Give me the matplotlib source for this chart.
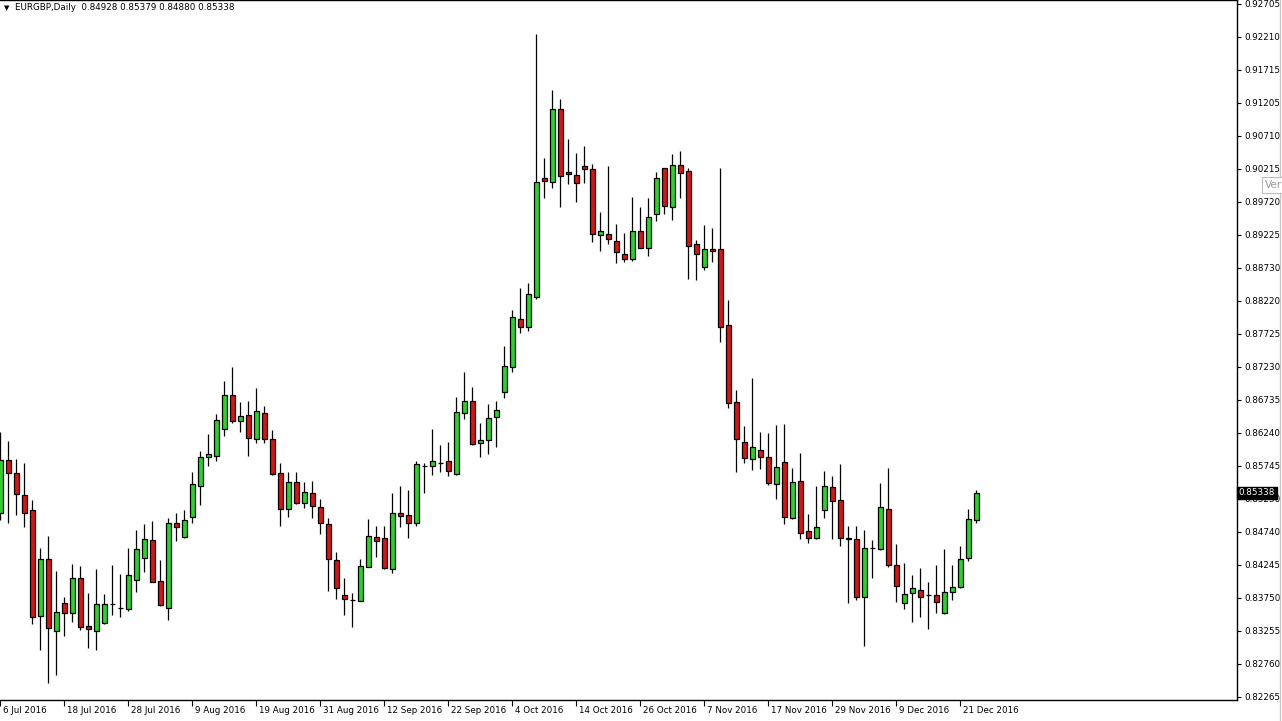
import numpy as np
import pandas as pd
import matplotlib
matplotlib.use('Agg')
import matplotlib.pyplot as plt
from matplotlib.lines import Line2D

# EURGBP daily bars, 6 Jul 2016 - 23 Dec 2016
dates = pd.bdate_range('2016-07-06', '2016-12-23')

opens = [0.85032, 0.85835, 0.85644, 0.85308, 0.85082, 0.83489, 0.84339, 0.83264, 0.83681, 0.83535,
         0.84053, 0.83334, 0.83264, 0.83384, 0.83666, 0.83601, 0.83590, 0.84023, 0.84354, 0.84625,
         0.84008, 0.83610, 0.84881, 0.84680, 0.84981, 0.85448, 0.85876, 0.85900, 0.86298, 0.86814,
         0.86427, 0.86513, 0.86147, 0.86539, 0.86147, 0.85635, 0.85092, 0.85499, 0.85192, 0.85333,
         0.85123, 0.84871, 0.84329, 0.83801, 0.83726, 0.83715, 0.84228, 0.84671, 0.84656, 0.84193,
         0.85032, 0.85007, 0.84881, 0.85745, 0.85745, 0.85785, 0.85820, 0.85624, 0.86539, 0.86724,
         0.86087, 0.86136, 0.86487, 0.86860, 0.87236, 0.87959, 0.87839, 0.88295, 0.90079, 0.90019,
         0.91118, 0.90169, 0.90124, 0.90264, 0.90215, 0.89225, 0.89235, 0.89134, 0.88934, 0.88859,
         0.89285, 0.89033, 0.89537, 0.90230, 0.89651, 0.90279, 0.90189, 0.89085, 0.88747, 0.89009,
         0.89009, 0.87869, 0.86704, 0.86102, 0.85846, 0.85986, 0.85876, 0.85478, 0.85800, 0.84966,
         0.85514, 0.84761, 0.84665, 0.85082, 0.85424, 0.85233, 0.84656, 0.84645, 0.83776, 0.84505,
         0.84490, 0.85097, 0.84253, 0.83685, 0.83827, 0.83877, 0.83801, 0.83801, 0.83535, 0.83851,
         0.83926, 0.84363, 0.84928]

highs = [0.86261, 0.86126, 0.85846, 0.85794, 0.85233, 0.84505, 0.84690, 0.84163, 0.83776, 0.84268,
         0.84238, 0.83827, 0.84193, 0.83816, 0.84253, 0.84118, 0.84514, 0.84781, 0.84871, 0.84921,
         0.84329, 0.84957, 0.85032, 0.85082, 0.85650, 0.85971, 0.86227, 0.86528, 0.87025, 0.87241,
         0.86713, 0.86724, 0.86915, 0.86649, 0.86287, 0.85785, 0.85650, 0.85650, 0.85499, 0.85519,
         0.85243, 0.84957, 0.84445, 0.84053, 0.83827, 0.84344, 0.84946, 0.84845, 0.84845, 0.85342,
         0.85443, 0.85383, 0.85820, 0.85794, 0.86302, 0.86061, 0.86111, 0.86789, 0.87156, 0.86930,
         0.86388, 0.86679, 0.86724, 0.87553, 0.88095, 0.88426, 0.88502, 0.92253, 0.90389, 0.91409,
         0.91269, 0.90671, 0.90456, 0.90566, 0.90290, 0.89567, 0.90264, 0.89390, 0.89250, 0.89802,
         0.89642, 0.89778, 0.90169, 0.90240, 0.90445, 0.90490, 0.90230, 0.89149, 0.89375, 0.89326,
         0.90239, 0.88246, 0.86890, 0.86347, 0.87075, 0.86257, 0.86242, 0.86362, 0.86377, 0.85710,
         0.85936, 0.85017, 0.85443, 0.85669, 0.85594, 0.85775, 0.84841, 0.84841, 0.84781, 0.84630,
         0.85493, 0.85710, 0.84570, 0.84279, 0.84103, 0.84204, 0.83993, 0.84253, 0.84494, 0.84253,
         0.84540, 0.85097, 0.85379]

lows = [0.84931, 0.84891, 0.85007, 0.84830, 0.83360, 0.82973, 0.82471, 0.82596, 0.83184, 0.83399,
        0.83274, 0.83007, 0.82973, 0.83364, 0.83500, 0.83474, 0.83560, 0.83851, 0.84152, 0.83997,
        0.83640, 0.83425, 0.84619, 0.84660, 0.84891, 0.85157, 0.85745, 0.85825, 0.86197, 0.86397,
        0.86261, 0.85900, 0.86087, 0.86087, 0.85615, 0.84845, 0.84981, 0.85168, 0.85117, 0.84966,
        0.84716, 0.83866, 0.83741, 0.83500, 0.83324, 0.83712, 0.84218, 0.84378, 0.84195, 0.84137,
        0.84821, 0.84665, 0.84845, 0.85342, 0.85609, 0.85659, 0.85599, 0.85609, 0.86448, 0.86061,
        0.85885, 0.85921, 0.86036, 0.86769, 0.87161, 0.87748, 0.87779, 0.88256, 0.89787, 0.89937,
        0.89651, 0.89988, 0.89726, 0.90004, 0.89124, 0.88988, 0.89085, 0.88798, 0.88822, 0.88838,
        0.89024, 0.88913, 0.89436, 0.89537, 0.89451, 0.89787, 0.88562, 0.88547, 0.88697, 0.88822,
        0.87617, 0.86614, 0.85659, 0.85794, 0.85680, 0.85704, 0.85458, 0.85248, 0.84871, 0.84942,
        0.84640, 0.84589, 0.84645, 0.84966, 0.84645, 0.84544, 0.83676, 0.83726, 0.83033, 0.84053,
        0.84479, 0.84228, 0.83700, 0.83590, 0.83399, 0.83474, 0.83289, 0.83535, 0.83520, 0.83726,
        0.83914, 0.84318, 0.84880]

closes = [0.85835, 0.85635, 0.85318, 0.85041, 0.83474, 0.84339, 0.83300, 0.83541, 0.83535, 0.84053,
          0.83324, 0.83294, 0.83666, 0.83666, 0.83660, 0.83605, 0.84103, 0.84490, 0.84645, 0.84002,
          0.83646, 0.84881, 0.84830, 0.84931, 0.85469, 0.85876, 0.85921, 0.86438, 0.86814, 0.86427,
          0.86498, 0.86171, 0.86573, 0.86147, 0.85624, 0.85092, 0.85499, 0.85192, 0.85349, 0.85147,
          0.84881, 0.84344, 0.83911, 0.83741, 0.83720, 0.84238, 0.84690, 0.84619, 0.84204, 0.85032,
          0.84996, 0.84881, 0.85770, 0.85740, 0.85820, 0.85790, 0.85669, 0.86554, 0.86724, 0.86076,
          0.86136, 0.86463, 0.86588, 0.87251, 0.87989, 0.87839, 0.88336, 0.90019, 0.90043, 0.91118,
          0.90118, 0.90148, 0.90004, 0.90224, 0.89235, 0.89285, 0.89160, 0.88964, 0.88859, 0.89285,
          0.89033, 0.89491, 0.90079, 0.89666, 0.90279, 0.90163, 0.89064, 0.88934, 0.89009, 0.88988,
          0.87843, 0.86698, 0.86147, 0.85870, 0.86026, 0.85873, 0.85493, 0.85725, 0.84981, 0.85499,
          0.84740, 0.84656, 0.84830, 0.85443, 0.85222, 0.84656, 0.84650, 0.83776, 0.84505, 0.84510,
          0.85123, 0.84253, 0.83941, 0.83816, 0.83902, 0.83776, 0.83795, 0.83700, 0.83851, 0.83926,
          0.84339, 0.84946, 0.85338]

price_labels = ['0.92705', '0.92210', '0.91715', '0.91205', '0.90710', '0.90215', '0.89720',
                '0.89225', '0.88730', '0.88220', '0.87725', '0.87230', '0.86735', '0.86240',
                '0.85745', '0.85250', '0.84740', '0.84245', '0.83750', '0.83255', '0.82760',
                '0.82265']

df = pd.DataFrame({'open': opens, 'high': highs, 'low': lows, 'close': closes}, index=dates)
x = np.arange(len(df))
up = df['close'] >= df['open']

plt.rcParams['font.family'] = 'DejaVu Sans'
fig = plt.figure(figsize=(12.82, 7.21), dpi=100)
ax = fig.add_axes([0, 21 / 721, 1237 / 1282, 700 / 721])

# wicks then bodies
ax.vlines(x, df['low'], df['high'], color='black', linewidth=0.9, zorder=1)
body_bottom = np.minimum(df['open'], df['close'])
body_height = np.abs(df['close'] - df['open'])
colors = np.where(up, '#33CC33', '#CC1A1A')
ax.bar(x, body_height, bottom=body_bottom, width=0.62, color=colors,
       edgecolor='black', linewidth=0.9, zorder=2)

ax.set_xlim(-0.0375, 154.59)
ax.set_ylim(0.822195, 0.92765)

# price scale on the right
step = 33 * 0.00015065
ax.yaxis.tick_right()
ax.set_yticks([0.92705 - j * step for j in range(len(price_labels))])
ax.set_yticklabels(price_labels, fontsize=6.3)
ax.tick_params(axis='y', direction='out', length=3, width=0.8, pad=2)

# date scale
tick_idx = x[::8]
ax.set_xticks(tick_idx)
ax.set_xticklabels([])
ax.tick_params(axis='x', direction='out', length=4, width=0.8)
for i in tick_idx:
    d = dates[i]
    ax.text(i + 0.3, -0.009, f"{d.day} {d.strftime('%b %Y')}", transform=ax.get_xaxis_transform(),
            ha='left', va='top', fontsize=6.3)

for side in ['top', 'right', 'bottom']:
    ax.spines[side].set_linewidth(1.0)
ax.spines['left'].set_visible(False)

# current price marker
ax.text(1.0015, df['close'].iloc[-1], f"{df['close'].iloc[-1]:.5f}",
        transform=ax.get_yaxis_transform(), ha='left', va='center', fontsize=6.3,
        color='white', bbox=dict(facecolor='black', edgecolor='black', pad=1.4), zorder=5)

# header line
fig.text(4 / 1282, 1 - 8 / 721, '\u25bc', fontsize=5, va='center', ha='left')
fig.text(15 / 1282, 1 - 8 / 721,
         'EURGBP,Daily  ' + ' '.join(f'{v:.5f}' for v in df.iloc[-1][['open', 'high', 'low', 'close']]),
         fontsize=6.3, va='center', ha='left')

# leftover tooltip and window edge
fig.text(1265 / 1282, 1 - 185 / 721, 'Ver', fontsize=7.5, color='#999999', va='center', ha='left',
         bbox=dict(facecolor='white', edgecolor='#bbbbbb', pad=2.5, linewidth=0.8))
fig.add_artist(Line2D([1279.5 / 1282, 1279.5 / 1282], [0, 1], color='#c8c8c8', linewidth=1))

fig.savefig('out.png', dpi=100, facecolor='white')
